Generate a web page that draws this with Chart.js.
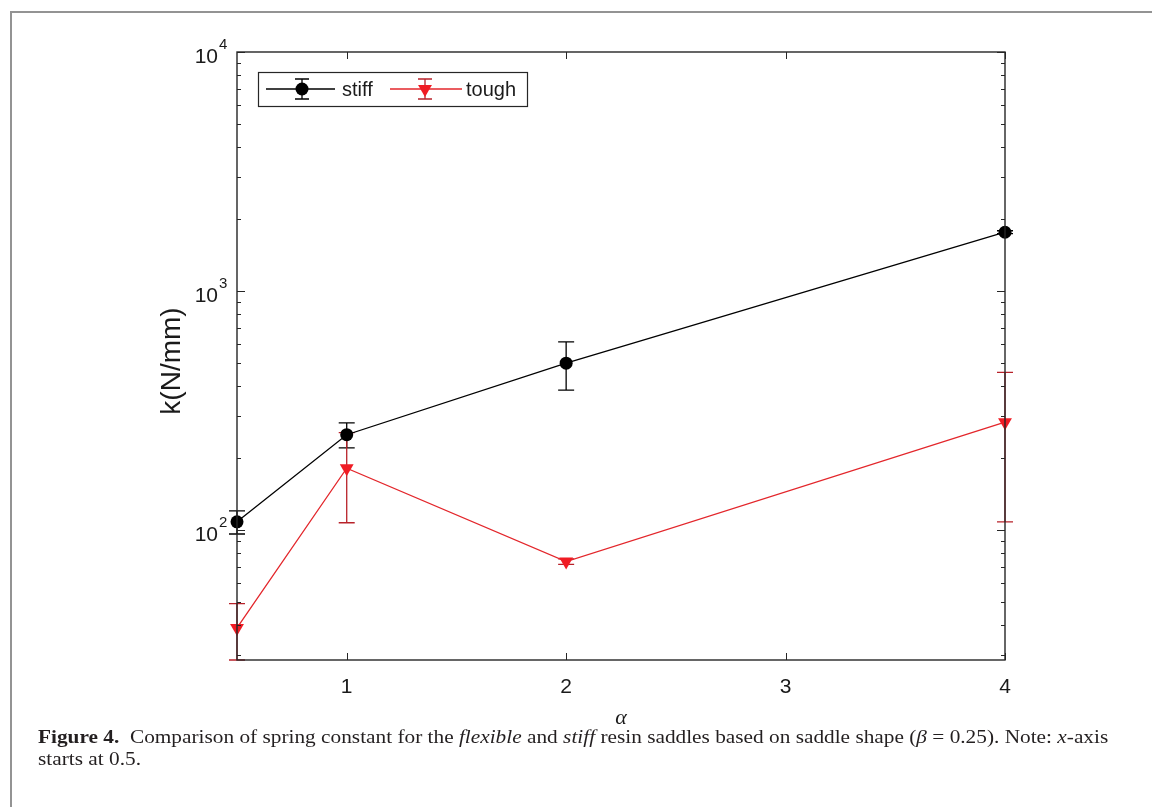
<!DOCTYPE html>
<html><head><meta charset="utf-8">
<script src="https://cdn.jsdelivr.net/npm/chart.js@4"></script>
<style>
html,body{margin:0;padding:0;background:#fff;width:1152px;height:807px;overflow:hidden}
#wrap{position:relative;width:1152px;height:807px}
#frame{position:absolute;left:10px;top:11px;width:1160px;height:820px;border-left:2px solid #939393;border-top:2px solid #939393}
canvas{position:absolute;left:0;top:0}
#cap{position:absolute;left:38px;top:726px;font-family:"Liberation Serif",serif;font-size:18px;line-height:22px;color:#231f20;white-space:nowrap;transform-origin:0 0}
</style></head><body>
<div id="wrap"><div id="frame"></div><canvas id="c" width="1152" height="807"></canvas>
<div id="cap"><span id="l1"><b>Figure 4.</b>&nbsp;&nbsp;Comparison of spring constant for the <i>flexible</i> and <i>stiff</i> resin saddles based on saddle shape (<i>β</i> = 0.25). Note: <i>x</i>-axis</span><br><span>starts at 0.5.</span></div>
</div>
<script>
// ---- data ----
const alphaValues = [0.5, 1, 2, 4];
const stiffK   = [108, 250, 498, 1760];
const stiffErr = [12, 30, 114, 25];
const toughK   = [38.8, 181, 73.6, 282];
const toughErr = [10.3, 74, 2, 174];
const xTicks   = [1, 2, 3, 4];
const yDecadeExps = [2, 3, 4];
const seriesNames = ['stiff', 'tough'];
const xTitle = 'α';
const yTitle = 'k(N/mm)';

const AX = '#262626';
const TXT = '#1a1a1a';

const cap = document.getElementById('cap');
const l1 = document.getElementById('l1');
cap.style.transform = 'scaleX(' + (1070 / l1.offsetWidth) + ')';

const deco = {
  id: 'deco',
  beforeDatasetsDraw(chart) {
    const ctx = chart.ctx, xs = chart.scales.x, ys = chart.scales.y;
    chart.data.datasets.forEach(ds => {
      ctx.save();
      ctx.strokeStyle = ds.errColor; ctx.lineWidth = 1.3;
      alphaValues.forEach((a, i) => {
        const v = ds.vals[i], e = ds.errs[i];
        const px = xs.getPixelForValue(a);
        const pt = ys.getPixelForValue(v + e);
        const pb = ys.getPixelForValue(Math.max(v - e, ys.min));
        ctx.beginPath();
        ctx.moveTo(px, pt); ctx.lineTo(px, pb);
        ctx.moveTo(px - 8, pt); ctx.lineTo(px + 8, pt);
        ctx.moveTo(px - 8, pb); ctx.lineTo(px + 8, pb);
        ctx.stroke();
      });
      ctx.restore();
    });
  },
  afterDraw(chart) {
    const ctx = chart.ctx, xs = chart.scales.x, ys = chart.scales.y, ca = chart.chartArea;
    ctx.save();
    // axes box
    ctx.strokeStyle = AX; ctx.lineWidth = 1.4;
    ctx.strokeRect(ca.left, ca.top, ca.right - ca.left, ca.bottom - ca.top);
    ctx.lineWidth = 1;
    // x ticks
    xTicks.forEach(t => {
      const px = Math.round(xs.getPixelForValue(t)) + 0.5;
      ctx.beginPath();
      ctx.moveTo(px, ca.bottom); ctx.lineTo(px, ca.bottom - 7);
      ctx.moveTo(px, ca.top); ctx.lineTo(px, ca.top + 7);
      ctx.stroke();
    });
    // y ticks (log)
    for (let n = 1; n <= 4; n++) {
      for (let m = 1; m <= 9; m++) {
        const v = m * Math.pow(10, n);
        if (v < ys.min || v > ys.max) continue;
        const py = Math.round(ys.getPixelForValue(v)) + 0.5;
        const len = m === 1 ? 8 : 4;
        ctx.beginPath();
        ctx.moveTo(ca.left, py); ctx.lineTo(ca.left + len, py);
        ctx.moveTo(ca.right, py); ctx.lineTo(ca.right - len, py);
        ctx.stroke();
      }
    }
    // tick labels
    ctx.fillStyle = TXT;
    ctx.textBaseline = 'middle';
    ctx.font = '21px "Liberation Sans", Arial, sans-serif';
    ctx.textAlign = 'center';
    xTicks.forEach(t => ctx.fillText(String(t), xs.getPixelForValue(t), 687));
    yDecadeExps.forEach(n => {
      const py = ys.getPixelForValue(Math.pow(10, n));
      ctx.font = '21px "Liberation Sans", Arial, sans-serif';
      ctx.textAlign = 'right';
      ctx.fillText('10', 218, py + 5);
      ctx.font = '15px "Liberation Sans", Arial, sans-serif';
      ctx.textAlign = 'left';
      ctx.fillText(String(n), 219, py - 7);
    });
    // titles
    ctx.font = 'italic 22px "Liberation Serif", serif';
    ctx.textAlign = 'center';
    ctx.fillText(xTitle, (ca.left + ca.right) / 2, 718);
    ctx.save();
    ctx.translate(172, 361);
    ctx.rotate(-Math.PI / 2);
    ctx.font = '28px "Liberation Sans", Arial, sans-serif';
    ctx.fillText(yTitle, 0, 0);
    ctx.restore();
    // legend
    const lx = 258, ly = 72, lw = 269, lh = 34, cy = ly + lh / 2;
    ctx.fillStyle = '#fff'; ctx.fillRect(lx, ly, lw, lh);
    ctx.strokeStyle = AX; ctx.lineWidth = 1.2; ctx.strokeRect(lx + 0.5, ly + 0.5, lw, lh);
    const items = [
      {x0: 266, x1: 335, mx: 302, tx: 342},
      {x0: 390, x1: 462, mx: 425, tx: 466}
    ];
    chart.data.datasets.forEach((ds, k) => {
      const it = items[k];
      ctx.strokeStyle = ds.borderColor; ctx.lineWidth = 1.3;
      ctx.beginPath(); ctx.moveTo(it.x0, cy); ctx.lineTo(it.x1, cy); ctx.stroke();
      ctx.strokeStyle = ds.errColor;
      ctx.beginPath();
      ctx.moveTo(it.mx, cy - 10); ctx.lineTo(it.mx, cy + 10);
      ctx.moveTo(it.mx - 7, cy - 10); ctx.lineTo(it.mx + 7, cy - 10);
      ctx.moveTo(it.mx - 7, cy + 10); ctx.lineTo(it.mx + 7, cy + 10);
      ctx.stroke();
      ctx.fillStyle = ds.backgroundColor;
      ctx.beginPath();
      if (ds.pointStyle === 'circle') {
        ctx.arc(it.mx, cy, ds.pointRadius, 0, Math.PI * 2);
      } else {
        const r = ds.pointRadius;
        ctx.moveTo(it.mx, cy + r);
        ctx.lineTo(it.mx - r * 0.866, cy - r / 2);
        ctx.lineTo(it.mx + r * 0.866, cy - r / 2);
        ctx.closePath();
      }
      ctx.fill();
      ctx.fillStyle = TXT;
      ctx.font = '20px "Liberation Sans", Arial, sans-serif';
      ctx.textAlign = 'left';
      ctx.fillText(ds.label, it.tx, cy + 1);
    });
    ctx.restore();
  }
};

new Chart(document.getElementById('c'), {
  type: 'line',
  data: {
    datasets: [
      {label: seriesNames[0], data: alphaValues.map((x, i) => ({x, y: stiffK[i]})),
       vals: stiffK, errs: stiffErr, errColor: '#000', clip: false,
       borderColor: '#000', backgroundColor: '#000', borderWidth: 1.3,
       pointStyle: 'circle', pointRadius: 6.5, pointBorderWidth: 0, tension: 0},
      {label: seriesNames[1], data: alphaValues.map((x, i) => ({x, y: toughK[i]})),
       vals: toughK, errs: toughErr, errColor: '#b8222a', clip: false,
       borderColor: '#e3262b', backgroundColor: '#f01c24', borderWidth: 1.3,
       pointStyle: 'triangle', pointRotation: 180, pointRadius: 8, pointBorderWidth: 0, tension: 0}
    ]
  },
  options: {
    responsive: false, animation: false, events: [],
    layout: {padding: {left: 237, top: 52, right: 147, bottom: 147}},
    plugins: {legend: {display: false}, tooltip: {enabled: false}},
    scales: {
      x: {type: 'linear', min: 0.5, max: 4, display: false},
      y: {type: 'logarithmic', min: 28.5, max: 10000, display: false}
    }
  },
  plugins: [deco]
});
</script>
</body></html>
